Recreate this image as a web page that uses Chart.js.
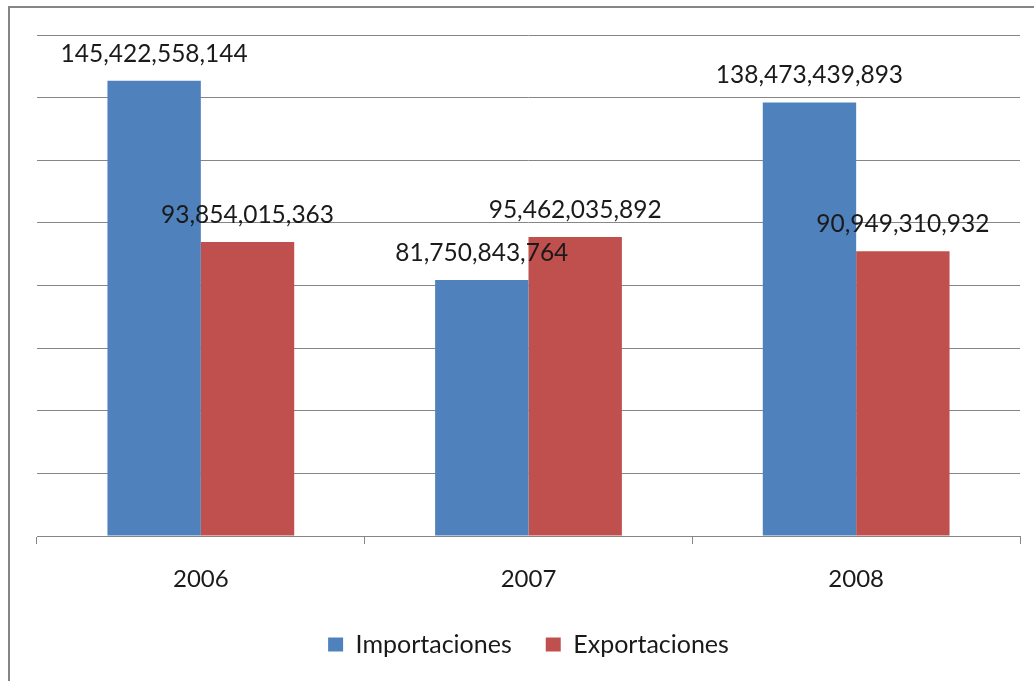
<!DOCTYPE html>
<html>
<head>
<meta charset="utf-8">
<script src="https://cdn.jsdelivr.net/npm/chart.js@4"></script>
<style>
  html, body { margin: 0; padding: 0; background: #fff; }
  #wrap { position: relative; width: 1034px; height: 681px; }
</style>
</head>
<body>
<div id="wrap"><canvas id="grafico" width="1034" height="681"></canvas></div>
<script>
"use strict";

// datos del gráfico
const anios = ["2006", "2007", "2008"];
const importaciones = [145422558144, 81750843764, 138473439893];
const exportaciones = [93854015363, 95462035892, 90949310932];
const nombres = ["Importaciones", "Exportaciones"];
const colores = ["#4F81BD", "#C0504D"];

const fuente = "Lato, 'Open Sans', sans-serif";
const gris = "#868686";

// marco exterior del gráfico (se corta por la derecha y por abajo)
const marco = {
  id: "marco",
  beforeDraw(chart) {
    const ctx = chart.ctx;
    ctx.save();
    ctx.strokeStyle = "#858585";
    ctx.lineWidth = 2;
    ctx.strokeRect(9, 7, 2000, 2000);
    ctx.restore();
  }
};

// etiquetas de valores encima de cada barra
const etiquetas = {
  id: "etiquetas",
  afterDatasetsDraw(chart) {
    const ctx = chart.ctx;
    ctx.save();
    ctx.font = "24.5px " + fuente;
    ctx.fillStyle = "#1a1a1a";
    ctx.textAlign = "center";
    ctx.textBaseline = "alphabetic";
    chart.data.datasets.forEach((ds, i) => {
      chart.getDatasetMeta(i).data.forEach((barra, j) => {
        ctx.fillText(ds.data[j].toLocaleString("en-US"), barra.x, barra.y - 19);
      });
    });
    ctx.restore();
  }
};

new Chart(document.getElementById("grafico").getContext("2d"), {
  type: "bar",
  data: {
    labels: anios,
    datasets: [
      { label: nombres[0], data: importaciones, backgroundColor: colores[0] },
      { label: nombres[1], data: exportaciones, backgroundColor: colores[1] }
    ]
  },
  options: {
    responsive: false,
    animation: false,
    layout: { padding: { left: 37, right: 14, top: 35, bottom: 14 } },
    datasets: { bar: { categoryPercentage: 0.57, barPercentage: 1.0 } },
    scales: {
      x: {
        grid: { drawOnChartArea: false, drawTicks: true, tickLength: 8, color: gris, offset: true },
        border: { display: true, color: gris },
        ticks: { padding: 21, color: "#1a1a1a", font: { family: fuente, size: 24 } },
        afterFit(scale) { scale.height = 62; }
      },
      y: {
        min: 0,
        max: 160000000000,
        ticks: { display: false, stepSize: 20000000000 },
        grid: { color: gris, drawTicks: false },
        border: { display: false },
        afterFit(scale) { scale.width = 0; }
      }
    },
    plugins: {
      legend: {
        position: "bottom",
        labels: {
          boxWidth: 15,
          boxHeight: 14,
          padding: 34,
          color: "#1a1a1a",
          font: { family: fuente, size: 25 }
        }
      },
      tooltip: { enabled: false }
    }
  },
  plugins: [marco, etiquetas]
});
</script>
</body>
</html>
